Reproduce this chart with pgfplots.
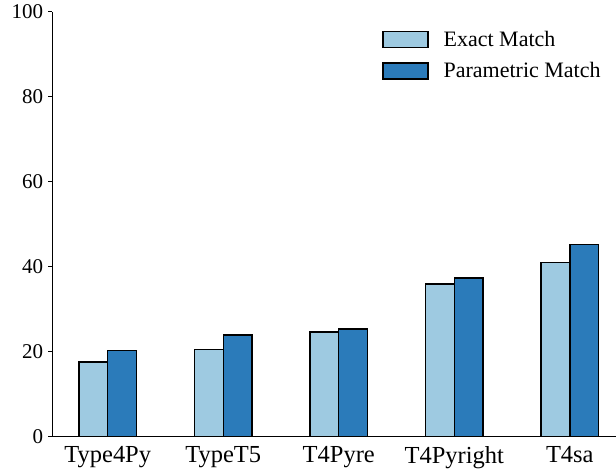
\documentclass[border=0pt]{standalone}
\usepackage{fontspec}
\setmainfont{Liberation Serif}
\usepackage{pgfplots}
\pgfplotsset{compat=1.18}

\definecolor{exactc}{HTML}{9ECAE1}
\definecolor{paramc}{HTML}{2B7BBA}

\begin{document}
\begin{tikzpicture}
\begin{axis}[
  width=564pt, height=425pt, scale only axis,
  ybar=0pt, bar width=0.25,
  xmin=-0.48, xmax=4.4,
  ymin=0, ymax=100,
  ytick={0,20,40,60,80,100},
  xtick={0,1,2,3,4},
  xticklabels={Type4Py,TypeT5,T4Pyre,T4Pyright,T4sa},
  axis x line*=bottom, axis y line*=left,
  axis line style={-, line width=1pt},
  tick align=outside,
  major tick length=4pt,
  xtick style={draw=none},
  ytick style={line width=0.8pt, black},
  /pgf/number format/assume math mode=true,
  yticklabel style={font=\fontsize{21}{25}\selectfont, inner sep=0pt, xshift=-5pt},
  xticklabel style={font=\fontsize{24.5}{28}\selectfont, inner sep=0pt, yshift=-6pt},
  legend style={
    at={(0.585,0.96)}, anchor=north west,
    draw=none, fill=none, inner sep=0pt,
    font=\fontsize{22}{26}\selectfont,
    row sep=11pt, column sep=13pt,
    cells={anchor=west},
  },
  legend image code/.code={\draw[#1] (0pt,-8pt) rectangle (45pt,8pt);},
]
\addplot[fill=exactc, draw=black, line width=1.4pt] coordinates {
  (0,17.5) (1,20.5) (2,24.6) (3,35.9) (4,41.0)
};
\addlegendentry{Exact Match}
\addplot[fill=paramc, draw=black, line width=1.4pt] coordinates {
  (0,20.3) (1,23.9) (2,25.3) (3,37.3) (4,45.2)
};
\addlegendentry{Parametric Match}
\end{axis}
% page margins around the axis box
\pgfresetboundingbox
\path (current axis.south west) ++(-52.3pt,-33.7pt)
      rectangle ([shift={(0pt,11.7pt)}]current axis.north east);
\end{tikzpicture}
\end{document}
